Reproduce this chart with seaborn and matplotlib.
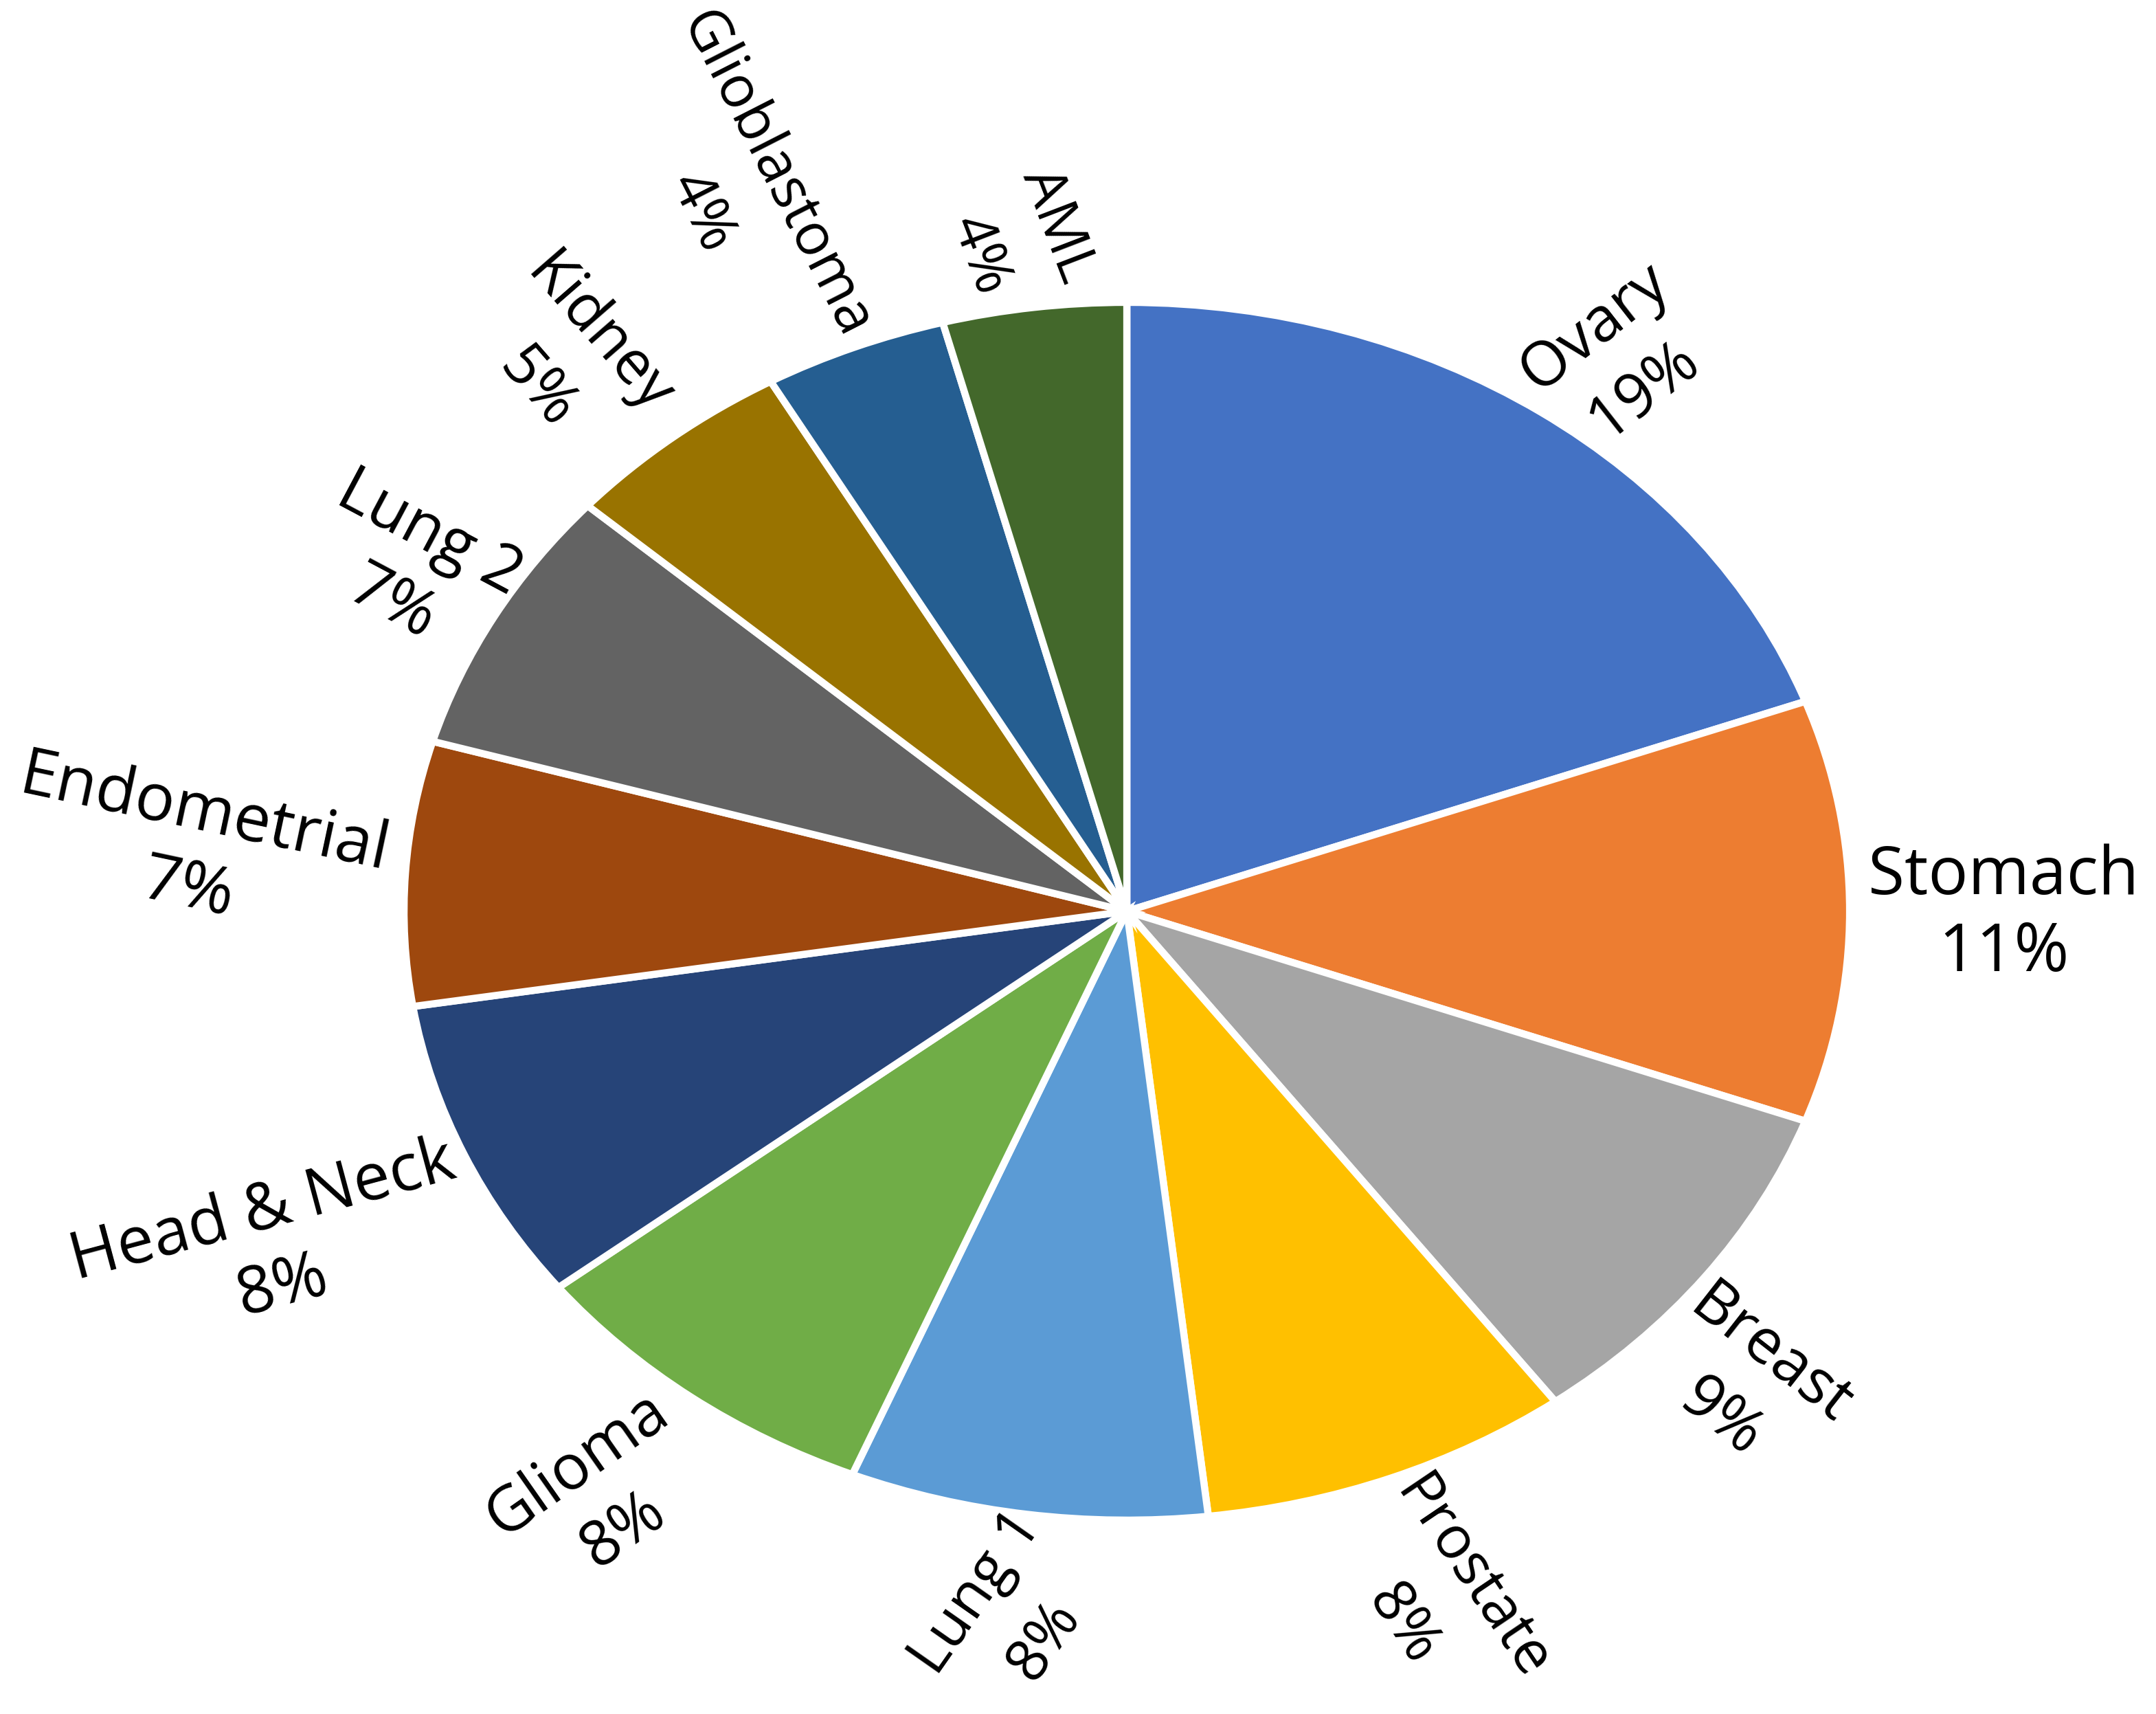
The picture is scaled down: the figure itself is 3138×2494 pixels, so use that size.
import matplotlib.pyplot as plt
import numpy as np
import seaborn as sns

cancers = ['Ovary', 'Stomach', 'Breast', 'Prostate', 'Lung 1', 'Glioma',
           'Head & Neck', 'Endometrial', 'Lung 2', 'Kidney', 'Glioblastoma', 'AML']
shares = [19.4, 11.2, 9.3, 8.3, 8.0, 8.2, 8.1, 7.0, 7.1, 5.2, 4.1, 4.1]
colors = ['#4472C4', '#ED7D31', '#A5A5A5', '#FFC000', '#5B9BD5', '#70AD47',
          '#264478', '#9E480E', '#636363', '#997300', '#255E91', '#43682B']

# label rotation (deg), angle shift from slice middle (deg) and distance (radii)
label_rot = [38, 0, -38, -56, 55, 35, 15, -12, -28, -49, -63, -69]
label_shift = [-2, -0.3, -5.5, -0.7, 0, 0, 1.6, -0.7, -0.6, 1.7, 2.4, 0.4]
label_dist = [1.134, 1.213, 1.158, 1.213, 1.17, 1.208, 1.306, 1.291, 1.139, 1.189, 1.295, 1.112]

sns.set_theme(style='white')
plt.rcParams['font.family'] = ['Open Sans', 'DejaVu Sans']

fig = plt.figure(figsize=(31.38, 24.94), dpi=100)
ax = fig.add_axes([0.1874, 0.1131, 0.6705, 0.7105])

wedges, _ = ax.pie(shares, colors=colors, startangle=90, counterclock=False,
                   wedgeprops=dict(edgecolor='white', linewidth=7.5))
# the pie in the original is stretched sideways
stretch = 1.18
ax.set_aspect('auto')
ax.set_xlim(-1, 1)
ax.set_ylim(-1, 1)
ax.axis('off')

total = sum(shares)
for w, name, v, rot, sh, d in zip(wedges, cancers, shares, label_rot, label_shift, label_dist):
    mid = np.deg2rad((w.theta1 + w.theta2) / 2 + sh)
    r = np.deg2rad(rot)
    # text along the stretch gets longer, so scale size with the direction
    along = 1 / np.sqrt(np.cos(r) ** 2 / stretch ** 2 + np.sin(r) ** 2)
    across = 1 / np.sqrt(np.sin(r) ** 2 / stretch ** 2 + np.cos(r) ** 2)
    fs = 59 * along
    ax.text(d * np.cos(mid), d * np.sin(mid), f'{name}\n{round(v / total * 100)}%',
            rotation=rot, rotation_mode='anchor', ha='center', va='center',
            multialignment='center', fontsize=fs, linespacing=84.5 * across / fs,
            color='black')

plt.savefig('out.png', dpi=100)
